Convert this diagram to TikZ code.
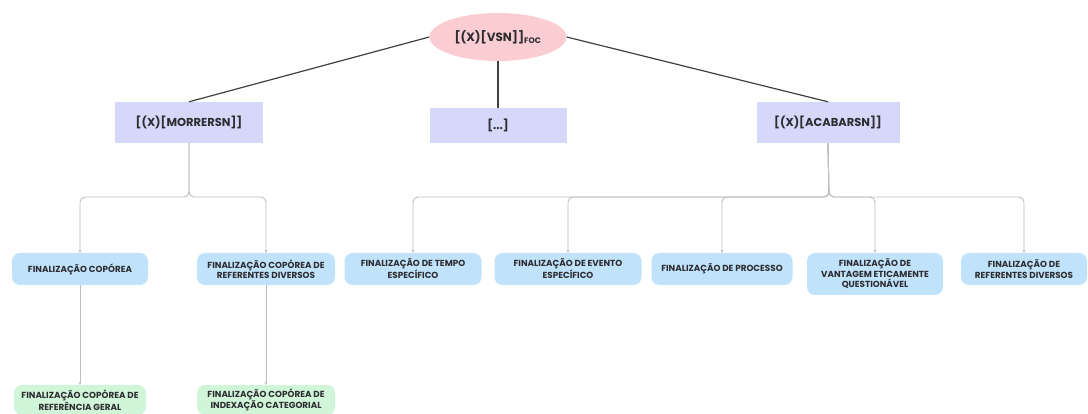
\documentclass[tikz,border=0pt]{standalone}
\usepackage{fontspec}
\setmainfont{Poppins}
\usetikzlibrary{arrows.meta,shapes.geometric}
\definecolor{rootpink}{RGB}{249,205,210}
\definecolor{midlilac}{RGB}{214,216,250}
\definecolor{leafblue}{RGB}{192,226,250}
\definecolor{subgreen}{RGB}{208,245,216}
\definecolor{txtgray}{RGB}{45,45,50}
\definecolor{linkgray}{RGB}{190,190,196}
\tikzset{
  rootnode/.style={ellipse,fill=rootpink,minimum width=137pt,minimum height=48pt,
    inner sep=0pt,text=txtgray,font=\fontsize{12}{14}\selectfont\bfseries},
  midbox/.style={rectangle,fill=midlilac,inner sep=0pt,text=txtgray,
    font=\fontsize{11.5}{13}\selectfont\bfseries},
  leafbox/.style={rectangle,rounded corners=8pt,fill=leafblue,minimum height=32pt,
    inner sep=0pt,align=center,text=txtgray,font=\fontsize{8.8}{10.5}\selectfont\bfseries},
  subbox/.style={leafbox,fill=subgreen,minimum height=30pt},
  rootlink/.style={draw=black!75,line width=1.2pt},
  link/.style={draw=linkgray,line width=0.9pt,rounded corners=5pt,
    -{Stealth[length=3pt,width=3pt]}},
}
\begin{document}
\begin{tikzpicture}[x=1pt,y=-1pt]
\useasboundingbox (0,0) rectangle (1088,414);
% top levels
\node[rootnode] (root) at (498,37) {[(X)[VSN]]\textsubscript{FOC}};
\node[midbox,minimum width=148pt,minimum height=41pt] (morrer) at (189,122.5) {[(X)[MORRERSN]]};
\node[midbox,minimum width=137pt,minimum height=35pt] (dots) at (498,125.5) {[...]};
\node[midbox,minimum width=143pt,minimum height=41pt] (acabar) at (828,122.5) {[(X)[ACABARSN]]};
% leaves
\node[leafbox,minimum width=136pt] (corp) at (80,269) {FINALIZAÇÃO COPÓREA};
\node[leafbox,minimum width=138pt] (corpref) at (266,269) {FINALIZAÇÃO COPÓREA DE\\REFERENTES DIVERSOS};
\node[leafbox,minimum width=137pt] (tempo) at (413,269) {FINALIZAÇÃO DE TEMPO\\ESPECÍFICO};
\node[leafbox,minimum width=147pt] (evento) at (568,269) {FINALIZAÇÃO DE EVENTO\\ESPECÍFICO};
\node[leafbox,minimum width=141pt] (processo) at (722,269) {FINALIZAÇÃO DE PROCESSO};
\node[leafbox,minimum width=136pt,minimum height=42pt] (vantagem) at (875,274) {FINALIZAÇÃO DE\\VANTAGEM ETICAMENTE\\QUESTIONÁVEL};
\node[leafbox,minimum width=126pt] (referentes) at (1024,269) {FINALIZAÇÃO DE\\REFERENTES DIVERSOS};
% bottom
\node[subbox,minimum width=132pt] (geral) at (80,400) {FINALIZAÇÃO COPÓREA DE\\REFERÊNCIA GERAL};
\node[subbox,minimum width=138pt] (indexacao) at (266,400) {FINALIZAÇÃO COPÓREA DE\\INDEXAÇÃO CATEGORIAL};
% connectors
\coordinate (mbar) at (189,197);
\coordinate (abar) at (829,197);
\draw[rootlink] (root.west) -- (morrer.north);
\draw[rootlink] (root.south) -- (dots.north);
\draw[rootlink] (root.east) -- (acabar.north);
\foreach \c in {corp,corpref}
  \draw[link] (morrer.south) -- (mbar) -| (\c.north);
\foreach \c in {tempo,evento,processo,vantagem,referentes}
  \draw[link] (acabar.south) -- (abar) -| (\c.north);
\draw[link] (corp) -- (geral);
\draw[link] (corpref) -- (indexacao);
\end{tikzpicture}
\end{document}
